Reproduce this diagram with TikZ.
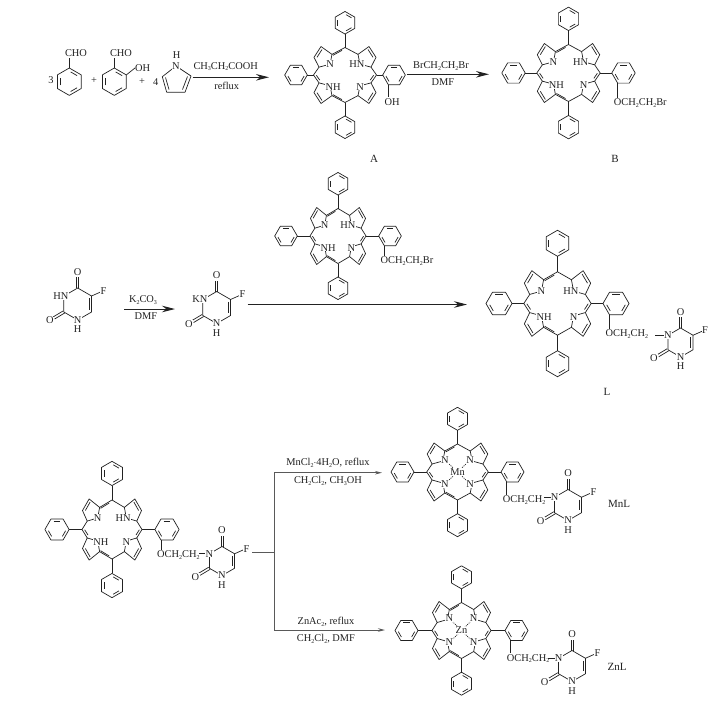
\documentclass[tikz,border=0pt]{standalone}
\usepackage{fontspec}
\setmainfont{Liberation Serif}
\usetikzlibrary{arrows.meta,calc}
\definecolor{ink}{HTML}{222222}
\newcommand\sbs[1]{\raisebox{-0.35ex}{\fontsize{6}{6}\selectfont #1}}
\tikzset{
  bond/.style={line width=0.7pt,draw=ink,line join=round},
  atom/.style={font=\fontsize{10.4}{10.4}\selectfont,text=ink,inner sep=0.3pt,fill=white},
  lbl/.style={font=\fontsize{10.4}{10.4}\selectfont,text=ink,inner sep=0pt},
  molname/.style={font=\fontsize{11}{11}\selectfont,text=ink,inner sep=0pt},
  coord/.style={bond,dash pattern=on 1pt off 1pt},
  bigarrow/.style={draw=ink,line width=1.1pt,-{Stealth[length=13pt,width=6.5pt]}},
  midarrow/.style={draw=ink,line width=1pt,-{Stealth[length=13pt,width=6.5pt]}},
  smallarrow/.style={draw=ink!75,line width=0.9pt,-{Stealth[length=7pt,width=3.5pt]}},
  branch/.style={draw=ink!75,line width=0.9pt},
}
% phenyl ring: x, y, radius, rotation
\newcommand\phen[4]{%
  \begin{scope}[shift={(#1,#2)}]
  \draw[bond] (#4:#3)--(#4+60:#3)--(#4+120:#3)--(#4+180:#3)--(#4+240:#3)--(#4+300:#3)--cycle;
  \draw[bond] (#4+8:0.72*#3)--(#4+52:0.72*#3);
  \draw[bond] (#4+128:0.72*#3)--(#4+172:0.72*#3);
  \draw[bond] (#4+248:0.72*#3)--(#4+292:0.72*#3);
  \end{scope}}
% one pyrrole of the macrocycle, mirrored by xs/ys
\newcommand\pyr[2]{%
  \begin{scope}[xscale=#1,yscale=#2]
  \draw[bond] (-13,-21)--(-24,-29)--(-31,-18)--(-26,-8)--(-15,-11)--cycle;
  \draw[bond] (-23,-26)--(-28,-18);
  \end{scope}}
% porphyrin: name, cx, cy, half width, half height, side phenyl distance, metal
\newcommand\porph[7]{%
  \pgfmathsetmacro\psx{#4/31.5}\pgfmathsetmacro\psy{#5/28}%
  \pgfmathsetmacro\prr{11.5*\psy}\pgfmathsetmacro\pvd{#5*1.9}%
  \begin{scope}[shift={(#2,#3)}]
  \begin{scope}[xscale=\psx,yscale=\psy]
    \pyr{1}{1}\pyr{-1}{1}\pyr{1}{-1}\pyr{-1}{-1}
    \draw[bond] (-13,-21)--(0,-28)--(13,-21);
    \draw[bond] (-3,-25.1)--(-12,-20.1);
    \draw[bond] (-13,21)--(0,28)--(13,21);
    \draw[bond] (-3,25.1)--(-12,20.1);
    \draw[bond] (-26,-8)--(-31.5,0)--(-26,8);
    \draw[bond] (-28.7,0.25)--(-25.2,5.25);
    \draw[bond] (26,-8)--(31.5,0)--(26,8);
    \draw[bond] (28.7,0.25)--(25.2,5.25);
    \if\relax\detokenize{#7}\relax
      \node[atom] (#1-tl) at (-15,-11) {N};
      \node[atom,anchor=east] (#1-tr) at (20,-11) {HN};
      \node[atom,anchor=west] (#1-bl) at (-20,12) {NH};
      \node[atom] (#1-br) at (15,12) {N};
    \else
      \draw[coord] (-13,-12)--(0,0) (13,-12)--(0,0) (-13,12)--(0,0) (13,12)--(0,0);
      \node[atom] (#1-tl) at (-13,-12) {N};
      \node[atom] (#1-tr) at (13,-12) {N};
      \node[atom] (#1-bl) at (-13,12) {N};
      \node[atom] (#1-br) at (13,12) {N};
      \node[atom] (#1-m) at (0,0) {#7};
    \fi
  \end{scope}
  \phen{0}{-\pvd}{\prr}{30}
  \phen{0}{\pvd}{\prr}{30}
  \phen{-#6}{0}{\prr}{0}
  \phen{#6}{0}{\prr}{0}
  \draw[bond] (0,-#5)--(0,-\pvd+\prr);
  \draw[bond] (0,#5)--(0,\pvd-\prr);
  \draw[bond] (-#4,0)--(-#6+\prr,0);
  \draw[bond] (#4,0)--(#6-\prr,0);
  \coordinate (#1-vtx) at (#6-0.5*\prr,0.866*\prr);
  \end{scope}}
% substituent under the aryl ring: name, drop, text
\newcommand\subst[3]{%
  \draw[bond] (#1-vtx)--++(0,#2-5);
  \path (#1-vtx)++(-4,#2) node[lbl,anchor=west] (#1-sub) {#3};}
% uracil ring: name, cx, cy, r, N3 text, N3 anchor, tail length
\newcommand\ura[7]{%
  \begin{scope}[shift={(#2,#3)}]
  \coordinate (#1-c4) at (-90:#4);
  \coordinate (#1-c5) at (-30:#4);
  \coordinate (#1-c6) at (30:#4);
  \coordinate (#1-n1) at (90:#4);
  \coordinate (#1-c2) at (150:#4);
  \coordinate (#1-n3) at (-150:#4);
  \end{scope}
  \draw[bond] (#1-c4)--(#1-c5)--(#1-c6)--(#1-n1)--(#1-c2)--(#1-n3)--cycle;
  \draw[bond] ($(#1-c5)!.15!(#1-c6)!2.3pt!-90:(#1-c6)$)--($(#1-c5)!.85!(#1-c6)!2.3pt!-90:(#1-c6)$);
  \draw[bond] (#1-c5)--++(9,-4);
  \path (#1-c4)++(-1.1,0)coordinate(#1-a)++(2.2,0)coordinate(#1-b);
  \draw[bond] (#1-a)--++(0,-11) (#1-b)--++(0,-11);
  \path (#1-c2)++(-0.8,-1)coordinate(#1-e)++(1.6,2)coordinate(#1-f);
  \draw[bond] (#1-e)--++(-10,6) (#1-f)--++(-10,6);
  \draw[bond] (#1-n3)--++(-#7,0);
  \path (#1-c4)++(0,-16) node[atom] (#1-ot) {O};
  \path (#1-c5)++(12,-5) node[atom] (#1-fl) {F};
  \node[atom,#6] (#1-nl) at (#1-n3) {#5};
  \node[atom] (#1-nb) at (#1-n1) {N};
  \path (#1-n1)++(0,9.5) node[atom,inner sep=0pt] (#1-h) {H};
  \path (#1-c2)++(-14,8.5) node[atom] (#1-ol) {O};}
\begin{document}
\begin{tikzpicture}[x=1pt,y=-1pt]
\fill[white] (0,0) rectangle (727,704);
\useasboundingbox (0,0) rectangle (727,704);

% === top row ===
\phen{69.3}{81.7}{13.7}{30}
\coordinate (b1top) at (69.3,68);
\node[lbl] (cho1) at (76,52.7) {CHO};
\draw[bond] (b1top)--(69.3,58);
\node[lbl] (n3) at (51,80.5) {3};
\node[lbl] (pl1) at (94,81) {+};
\phen{114.3}{81.7}{13.7}{30}
\coordinate (b2top) at (114.3,68);
\coordinate (b2oh) at (126.2,75);
\node[lbl] (cho2) at (121,52.7) {CHO};
\node[lbl] (oh2) at (142.7,68) {OH};
\draw[bond] (b2top)--(114.3,58);
\draw[bond] (b2oh)--(oh2.west);
\node[lbl] (pl2) at (142,82) {+};
\node[lbl] (n4) at (155.7,82) {4};
\coordinate (pa) at (162.3,76.7);
\coordinate (pb) at (166.7,92.3);
\coordinate (pc) at (185,92.3);
\coordinate (pd) at (191,76);
\coordinate (pn) at (176,66);
\draw[bond] (pn)--(pa)--(pb)--(pc)--(pd)--cycle;
\draw[bond] (165.5,77.5)--(169,89.5);
\draw[bond] (182.5,89.5)--(187.5,76.5);
\node[atom] (pnl) at (pn) {N};
\node[lbl] (ph) at (176.7,55.5) {H};
\coordinate (a1s) at (192.7,77.3);
\coordinate (a1e) at (269,77.3);
\draw[bigarrow] (a1s)--(a1e);
\node[lbl] (a1t) at (225.7,66.7) {CH\sbs{3}CH\sbs{2}COOH};
\node[lbl] (a1b) at (226.7,85.5) {reflux};

\porph{A}{345}{75}{31.5}{27.5}{49}{}
\subst{A}{17.5}{OH}
\node[molname] (labA) at (374,159) {A};

\coordinate (a2s) at (406.7,74.3);
\coordinate (a2e) at (489,74.3);
\draw[bigarrow] (a2s)--(a2e);
\node[lbl] (a2t) at (441,66) {BrCH\sbs{2}CH\sbs{2}Br};
\node[lbl] (a2b) at (443,82) {DMF};

\porph{B}{568.5}{73}{31.7}{28.5}{55}{}
\subst{B}{20}{OCH\sbs{2}CH\sbs{2}Br}
\node[molname] (labB) at (615,159) {B};

% === middle row ===
\ura{F1}{77.7}{304}{16}{HN}{anchor=east,xshift=5pt}{0}
\coordinate (a3s) at (124,309);
\coordinate (a3e) at (175,309);
\draw[midarrow] (a3s)--(a3e);
\node[lbl] (a3t) at (143,300) {K\sbs{2}CO\sbs{3}};
\node[lbl] (a3b) at (146,316) {DMF};
\ura{F2}{216.7}{307.5}{16}{KN}{anchor=east,xshift=5pt}{0}
\coordinate (a4s) at (247.7,304.5);
\coordinate (a4e) at (467,304.5);
\draw[midarrow] (a4s)--(a4e);

\porph{R}{338}{236}{28}{27.5}{52}{}
\subst{R}{15.5}{OCH\sbs{2}CH\sbs{2}Br}

\porph{L}{557.5}{303.5}{33.7}{31.7}{58.5}{}
\subst{L}{19}{OCH\sbs{2}CH\sbs{2}}
\ura{LU}{680.5}{342.5}{14.5}{N}{}{13}
\node[molname] (labL) at (607,392) {L};

% === bottom row ===
\porph{S}{112}{529.5}{30}{29.5}{55}{}
\subst{S}{15}{OCH\sbs{2}CH\sbs{2}}
\ura{SU}{222}{561}{14.5}{N}{}{10}

\coordinate (bs) at (252,552.7);
\coordinate (bj) at (274,552.7);
\coordinate (bt) at (274,472.7);
\coordinate (bb) at (274,630);
\coordinate (bte) at (382,472.7);
\coordinate (bbe) at (385,630);
\draw[branch] (bs)--(bj);
\draw[smallarrow] (bj)--(bt)--(bte);
\draw[smallarrow] (bj)--(bb)--(bbe);
\node[lbl] (mt) at (328,463) {MnCl\sbs{2}$\cdot$4H\sbs{2}O, reflux};
\node[lbl] (mb) at (328,481) {CH\sbs{2}Cl\sbs{2}, CH\sbs{3}OH};
\node[lbl] (zt) at (326,622) {ZnAc\sbs{2}, reflux};
\node[lbl] (zb) at (326,639) {CH\sbs{2}Cl\sbs{2}, DMF};

\porph{M}{457.5}{472}{30.8}{28}{55}{Mn}
\subst{M}{18}{OCH\sbs{2}CH\sbs{2}}
\ura{MU}{568}{505}{15.5}{N}{}{11}
\node[molname] (labM) at (619,504) {MnL};

\porph{Z}{461.5}{630.5}{29.5}{28}{55}{Zn}
\subst{Z}{18}{OCH\sbs{2}CH\sbs{2}}
\ura{ZU}{572}{666}{15.5}{N}{}{11}
\node[molname] (labZ) at (617,667) {ZnL};
\end{tikzpicture}
\end{document}
